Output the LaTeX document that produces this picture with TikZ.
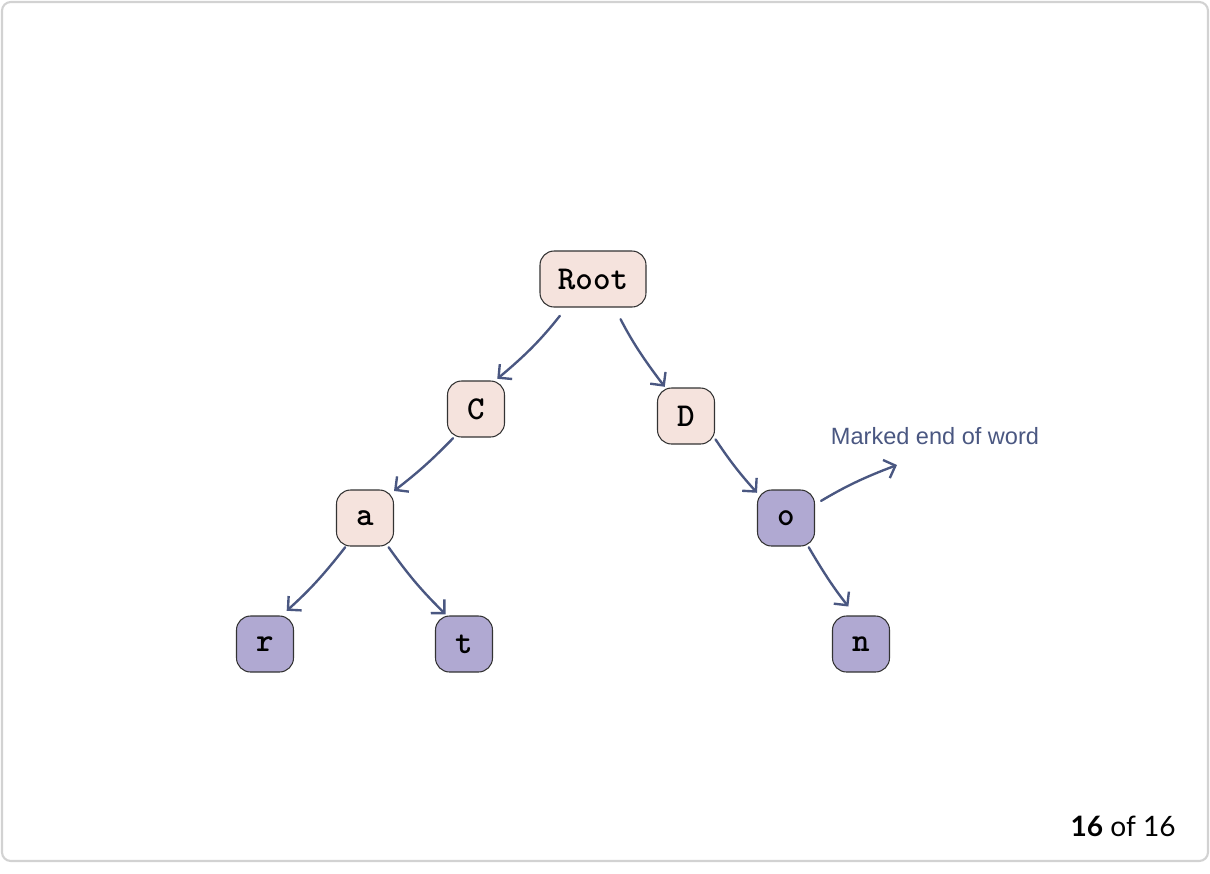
\documentclass[tikz,border=0pt]{standalone}
\usepackage{fontspec}
\setmainfont{Liberation Sans}
\newfontfamily\pagefont{Lato}
\usetikzlibrary{arrows.meta}

\definecolor{nodepink}{HTML}{F5E3DD}
\definecolor{nodepurple}{HTML}{B0A9D2}
\definecolor{edgeblue}{HTML}{4A5781}
\definecolor{framegray}{HTML}{D2D2D2}

\tikzset{
  letter/.style={draw=black!80, line width=0.6pt, rounded corners=8pt, inner sep=0pt,
    minimum width=1.14cm, minimum height=1.12cm, font=\ttfamily\bfseries\fontsize{19}{22}\selectfont},
  inner/.style={letter, fill=nodepink},
  leaf/.style={letter, fill=nodepurple},
  edge/.style={draw=edgeblue, line width=1.35pt, line cap=round, line join=round,
    -{Straight Barb[length=5.5pt, width=11pt, line width=1.35pt]}}
}

\begin{document}
\begin{tikzpicture}[x=0.02cm, y=-0.02cm]

	% Frame
	\useasboundingbox (0,0) rectangle (1210,873);
	\draw[framegray, line width=1.2pt, rounded corners=5pt] (2,2) rectangle (1208,861);

	% Nodes
	\node[inner, minimum width=2.12cm] (root) at (593,279) {Root};
	\node[inner] (c) at (476,409) {C};
	\node[inner] (d) at (686,416) {D};
	\node[inner] (a) at (365,518) {a};
	\node[leaf] (o) at (786,518) {o};
	\node[leaf] (r) at (265,644) {r};
	\node[leaf] (t) at (464,644) {t};
	\node[leaf] (n) at (861,644) {n};

	% Edges
	\draw[edge, shorten <=6pt, shorten >=1.5pt] (root.227) to[bend left=6] (c.56);
	\draw[edge, shorten <=7.5pt, shorten >=0.5pt] (root.307) to[bend right=5] (d.126);
	\draw[edge, shorten <=0.5pt] (c.232) to[bend left=4] (a.43);
	\draw[edge, shorten <=0.5pt] (d.322) to[bend right=4] (o.139);
	\draw[edge, shorten <=0.5pt, shorten >=4pt] (a.236) to[bend left=5] (r.60);
	\draw[edge, shorten <=0.5pt, shorten >=1pt] (a.309) to[bend right=5] (t.121);
	\draw[edge, shorten <=0.5pt, shorten >=6.5pt] (o.308) to[bend right=4] (n.101);

	% End of word marker
	\coordinate (mark) at (897,465);
	\node[text=edgeblue, font=\fontsize{13.4}{16}\selectfont] (marklbl) at (935,436) {Marked end of word};
	\draw[edge, shorten <=4pt] (o.25) to[bend left=5] (mark);

	% Page counter
	\node[anchor=base east, inner sep=0pt, font=\pagefont\fontsize{16}{19}\selectfont] (pages) at (1176,836) {\textbf{16} of 16};

\end{tikzpicture}
\end{document}
